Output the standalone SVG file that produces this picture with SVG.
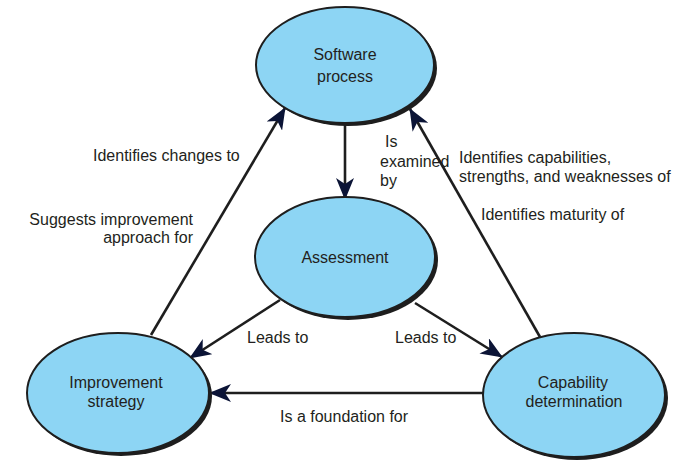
<svg xmlns="http://www.w3.org/2000/svg" width="683" height="475" viewBox="0 0 683 475">
<style>
.shadow{fill:#1e1e1e}
.node{fill:#8dd5f4;stroke:#1e1e1e;stroke-width:2}
.lbl{font-family:"Liberation Sans",Arial,sans-serif;font-size:16px;fill:#231f20}
.c{text-anchor:middle}
.e{text-anchor:end}
.edge{stroke:#1e1e1e;stroke-width:2.6;fill:none;marker-end:url(#ah)}
</style>
<defs>
<marker id="ah" markerUnits="userSpaceOnUse" markerWidth="22" markerHeight="18" viewBox="0 0 22 18" refX="21" refY="9" orient="auto">
<path d="M0,0 L22,9 L0,18 L6,9 Z" fill="#0b1436"/>
</marker>
</defs>
<rect width="683" height="475" fill="#fff"/>
<g id="connectors">
<line class="edge" x1="345" y1="124" x2="345" y2="199"/>
<line class="edge" x1="151" y1="335" x2="285" y2="108"/>
<line class="edge" x1="540" y1="337" x2="410" y2="109"/>
<line class="edge" x1="280" y1="300" x2="190" y2="358"/>
<line class="edge" x1="415" y1="303" x2="502" y2="357"/>
<line class="edge" x1="484" y1="393" x2="210" y2="393"/>
</g>
<g id="software-process">
<ellipse class="shadow" cx="348" cy="68" rx="89" ry="58"/>
<ellipse class="node" cx="345" cy="65" rx="89" ry="58"/>
<text class="lbl c" x="345" y="60">Software</text>
<text class="lbl c" x="345" y="82">process</text>
</g>
<g id="assessment">
<ellipse class="shadow" cx="348" cy="260" rx="90" ry="60"/>
<ellipse class="node" cx="345" cy="257" rx="90" ry="60"/>
<text class="lbl c" x="345" y="263">Assessment</text>
</g>
<g id="improvement-strategy">
<ellipse class="shadow" cx="121" cy="396" rx="91" ry="60"/>
<ellipse class="node" cx="118" cy="393" rx="91" ry="60"/>
<text class="lbl c" x="116" y="388">Improvement</text>
<text class="lbl c" x="116" y="407">strategy</text>
</g>
<g id="capability-determination">
<ellipse class="shadow" cx="577" cy="398" rx="91" ry="62"/>
<ellipse class="node" cx="574" cy="395" rx="91" ry="62"/>
<text class="lbl c" x="573" y="388">Capability</text>
<text class="lbl c" x="574" y="407">determination</text>
</g>
<g id="edge-labels">
<text class="lbl" x="385" y="147">Is</text>
<text class="lbl" x="380" y="167">examined</text>
<text class="lbl" x="380" y="186">by</text>
<text class="lbl" x="93" y="161">Identifies changes to</text>
<text class="lbl e" x="193" y="225">Suggests improvement</text>
<text class="lbl e" x="193" y="243">approach for</text>
<text class="lbl" x="459" y="163">Identifies capabilities,</text>
<text class="lbl" x="459" y="182">strengths, and weaknesses of</text>
<text class="lbl" x="481" y="220">Identifies maturity of</text>
<text class="lbl" x="247" y="343">Leads to</text>
<text class="lbl" x="395" y="343">Leads to</text>
<text class="lbl" x="280" y="422">Is a foundation for</text>
</g>
</svg>
